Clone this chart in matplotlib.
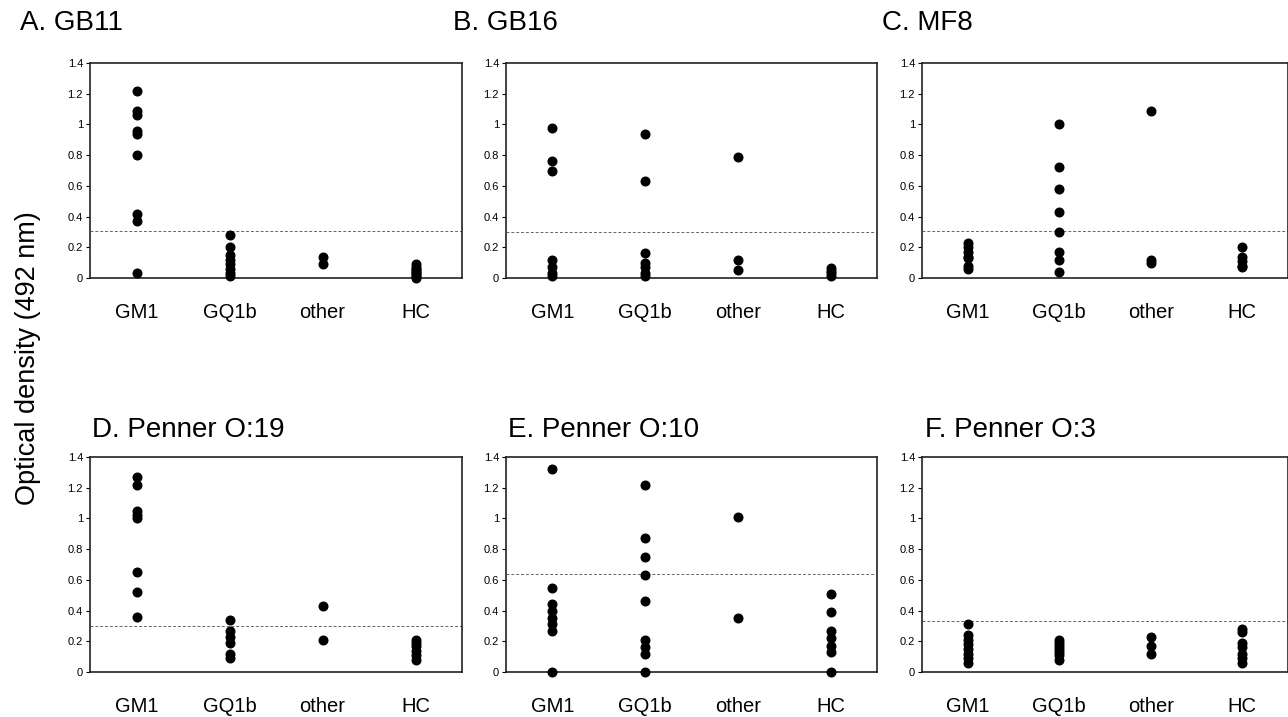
import numpy as np
import matplotlib
matplotlib.use("Agg")
import matplotlib.pyplot as plt

#DATA
groups = ["GM1", "GQ1b", "other", "HC"]

titles = ["A. GB11", "B. GB16", "C. MF8",
          "D. Penner O:19", "E. Penner O:10", "F. Penner O:3"]

# optical density values per group, one list per panel
gb11 = [[1.22, 1.09, 1.06, 0.96, 0.94, 0.80, 0.42, 0.37, 0.03],
        [0.28, 0.20, 0.15, 0.12, 0.09, 0.06, 0.03, 0.01],
        [0.14, 0.09],
        [0.09, 0.07, 0.06, 0.05, 0.04, 0.03, 0.02, 0.01, 0.0]]
gb16 = [[0.98, 0.76, 0.70, 0.12, 0.07, 0.03, 0.01],
        [0.94, 0.63, 0.16, 0.10, 0.07, 0.03, 0.01],
        [0.79, 0.12, 0.05],
        [0.065, 0.045, 0.03, 0.01]]
mf8 = [[0.23, 0.20, 0.17, 0.14, 0.13, 0.08, 0.06],
       [1.00, 0.72, 0.58, 0.43, 0.30, 0.17, 0.12, 0.04],
       [1.09, 0.12, 0.10],
       [0.20, 0.14, 0.11, 0.08, 0.07]]
penner19 = [[1.27, 1.22, 1.05, 1.02, 1.00, 0.65, 0.52, 0.36],
            [0.34, 0.27, 0.23, 0.19, 0.12, 0.09],
            [0.43, 0.21],
            [0.21, 0.19, 0.17, 0.14, 0.11, 0.08]]
penner10 = [[1.32, 0.55, 0.44, 0.40, 0.35, 0.31, 0.27, 0.0],
            [1.22, 0.87, 0.75, 0.63, 0.46, 0.21, 0.16, 0.12, 0.0],
            [1.01, 0.35],
            [0.51, 0.39, 0.27, 0.22, 0.17, 0.13, 0.0]]
penner3 = [[0.31, 0.24, 0.21, 0.18, 0.15, 0.12, 0.09, 0.06],
           [0.21, 0.19, 0.17, 0.15, 0.13, 0.11, 0.08],
           [0.23, 0.17, 0.12],
           [0.28, 0.26, 0.19, 0.16, 0.12, 0.09, 0.06]]

panels = [gb11, gb16, mf8, penner19, penner10, penner3]
cutoffs = [0.305, 0.297, 0.305, 0.302, 0.636, 0.33]

#LAYOUT (pixels)
W, H = 1288, 717
lefts = [90, 506, 922]
widths = [372, 371, 366]
tops = [63, 457]
ax_h = 215
title_x = [[20, 453, 882], [92, 508, 925]]
title_base = [30, 437]

fig = plt.figure(figsize=(W/100, H/100), dpi=100)
plt.rcParams['font.family'] = ['Liberation Sans', 'DejaVu Sans']

for k in range(6):
    r, c = divmod(k, 3)
    ax = fig.add_axes([lefts[c]/W, 1 - (tops[r] + ax_h)/H,
                       widths[c]/W, ax_h/H])
    pos = np.arange(len(groups)) + 0.5
    for i, vals in enumerate(panels[k]):
        ax.plot(np.full(len(vals), pos[i]), vals, "o", color="black",
                markersize=6.2, clip_on=False, zorder=3)
    ax.axhline(cutoffs[k], color="#666666", ls=(0, (3, 2)), lw=0.7)
    ax.set_xlim(0, 4)
    ax.set_ylim(0, 1.4)
    ax.set_yticks([0, 0.2, 0.4, 0.6, 0.8, 1, 1.2, 1.4])
    ax.set_yticklabels(["0", "0.2", "0.4", "0.6", "0.8", "1", "1.2", "1.4"])
    ax.set_xticks(pos)
    ax.set_xticklabels(groups, fontsize=14.5)
    ax.tick_params(axis="x", length=0, pad=18)
    ax.tick_params(axis="y", labelsize=8, length=3, width=0.8, pad=2)
    for s in ax.spines.values():
        s.set_linewidth(1.2)
        s.set_color("#222222")
    fig.text(title_x[r][c]/W, 1 - title_base[r]/H, titles[k],
             fontsize=20, ha="left", va="baseline")

fig.text(28/W, 0.5, "Optical density (492 nm)", rotation=90,
         fontsize=19.5, ha="center", va="center")

plt.savefig("out.png", dpi=100)
